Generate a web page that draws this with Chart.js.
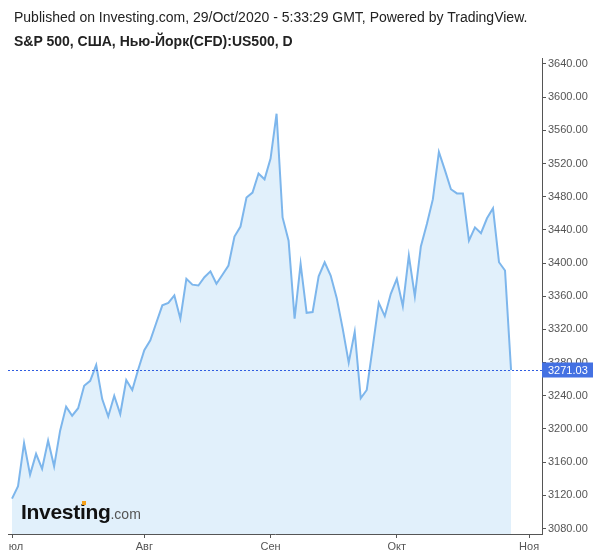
<!DOCTYPE html>
<html>
<head>
<meta charset="utf-8">
<script src="https://cdn.jsdelivr.net/npm/chart.js@4.4.0/dist/chart.umd.min.js"></script>
<style>
  html, body { margin: 0; padding: 0; background: #fff; overflow: hidden; }
  body { width: 600px; height: 558px; position: relative; font-family: Arial, "Liberation Sans", sans-serif; }
  #wrap { position: absolute; left: -30px; top: 0; width: 630px; height: 558px; }
  .hdr { position: absolute; left: 14px; font-size: 14px; line-height: 1; color: #222; white-space: nowrap; }
  #pub { top: 10px; }
  #sym { top: 34px; font-weight: bold; }
  #logo { position: absolute; left: 21px; top: 501px; white-space: nowrap; line-height: 1; }
  #logo .big { font-size: 21px; font-weight: bold; color: #111; letter-spacing: -0.3px; }
  #logo .com { font-size: 14px; color: #555; }
  #dot { position: absolute; left: 82px; top: 501px; width: 4px; height: 4px; background: #f7a21b; }
  #clip { position: absolute; left: 0; top: 537px; width: 8px; height: 21px; background: #fff; }
</style>
</head>
<body>
<div id="wrap"><canvas id="chart" width="630" height="558"></canvas></div>
<div class="hdr" id="pub">Published on Investing.com, 29/Oct/2020 - 5:33:29 GMT, Powered by TradingView.</div>
<div class="hdr" id="sym">S&amp;P 500, США, Нью-Йорк(CFD):US500, D</div>
<div id="logo"><span class="big">Investing</span><span class="com">.com</span></div>
<div id="dot"></div>
<div id="clip"></div>
<script>
// daily closes, 1 Jul .. 28 Oct 2020 (one value per trading day)
const closes = [
  3116, 3131, 3183, 3145, 3170, 3152, 3186, 3155, 3198, 3227,
  3216, 3225, 3252, 3258, 3277, 3236, 3215, 3240, 3218, 3259,
  3247, 3272, 3295, 3307, 3328, 3349, 3352, 3361, 3333, 3381,
  3374, 3373, 3383, 3390, 3375, 3386, 3397, 3432, 3444, 3479,
  3485, 3508, 3501, 3526, 3580, 3455, 3427, 3333, 3399, 3340,
  3341, 3384, 3401, 3385, 3358, 3321, 3280, 3317, 3237, 3247,
  3299, 3352, 3336, 3363, 3381, 3348, 3409, 3360, 3420, 3447,
  3477, 3534, 3512, 3489, 3484, 3484, 3427, 3443, 3436, 3454,
  3466, 3401, 3391, 3271.03
];
const lastPrice = 3271.03;

// month ticks: trading-day index of the first session of each month
const monthTicks = [0, 22, 43, 64, 86];
const monthLabels = ['Июл', 'Авг', 'Сен', 'Окт', 'Ноя'];

const priceTicks = [3080, 3120, 3160, 3200, 3240, 3280, 3320, 3360, 3400, 3440, 3480, 3520, 3560, 3600, 3640];

const axisColor = '#555';
const tickFont = { family: 'Arial, "Liberation Sans", sans-serif', size: 11 };

const lastPricePlugin = {
  id: 'lastPrice',
  afterDraw(chart) {
    const ctx = chart.ctx;
    const area = chart.chartArea;
    const y = Math.round(chart.scales.y.getPixelForValue(lastPrice)) + 0.5;
    ctx.save();
    ctx.strokeStyle = '#2f5ce0';
    ctx.lineWidth = 1;
    ctx.setLineDash([2, 2]);
    ctx.beginPath();
    ctx.moveTo(area.left, y);
    ctx.lineTo(area.right, y);
    ctx.stroke();
    ctx.setLineDash([]);
    ctx.fillStyle = '#4471e2';
    ctx.fillRect(area.right, y - 8, 51, 15);
    ctx.fillStyle = '#fff';
    ctx.font = '11px Arial, "Liberation Sans", sans-serif';
    ctx.textBaseline = 'middle';
    ctx.fillText(lastPrice.toFixed(2), area.right + 6, y);
    ctx.restore();
  }
};

new Chart(document.getElementById('chart'), {
  type: 'line',
  data: {
    datasets: [{
      data: closes.map((v, i) => ({ x: i, y: v })),
      borderColor: 'rgb(125,182,236)',
      borderWidth: 2,
      backgroundColor: '#e1f0fb',
      fill: 'start',
      pointRadius: 0,
      tension: 0
    }]
  },
  options: {
    responsive: false,
    animation: false,
    layout: { padding: { left: 38, top: 58, right: 0, bottom: 0 } },
    plugins: { legend: { display: false }, tooltip: { enabled: false } },
    scales: {
      x: {
        type: 'linear',
        min: -0.67,
        max: 88.15,
        afterBuildTicks: s => { s.ticks = monthTicks.map(v => ({ value: v })); },
        afterFit: s => { s.height = 24; },
        ticks: {
          callback: v => monthLabels[monthTicks.indexOf(v)],
          color: axisColor,
          font: tickFont,
          padding: 2,
          maxRotation: 0,
          autoSkip: false
        },
        grid: { drawOnChartArea: false, drawTicks: true, tickLength: 4, color: axisColor },
        border: { display: true, color: axisColor }
      },
      y: {
        position: 'right',
        min: 3073.4,
        max: 3647.2,
        afterBuildTicks: s => { s.ticks = priceTicks.map(v => ({ value: v })); },
        afterFit: s => { s.width = 58; },
        ticks: {
          callback: v => v.toFixed(2),
          color: axisColor,
          font: tickFont,
          padding: 2
        },
        grid: { drawOnChartArea: false, drawTicks: true, tickLength: 4, color: axisColor },
        border: { display: true, color: axisColor }
      }
    }
  },
  plugins: [lastPricePlugin]
});
</script>
</body>
</html>
